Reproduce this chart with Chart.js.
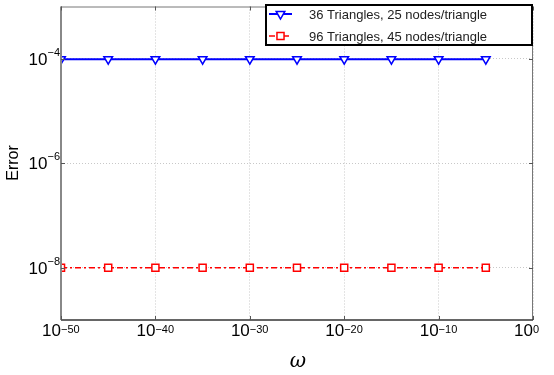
<!DOCTYPE html>
<html>
<head>
<meta charset="utf-8">
<script src="https://cdn.jsdelivr.net/npm/chart.js@4.4.0/dist/chart.umd.min.js"></script>
<style>
  html, body { margin: 0; padding: 0; background: #fff; }
  #wrap { width: 554px; height: 375px; }
</style>
</head>
<body>
<div id="wrap"><canvas id="chart"></canvas></div>
<script>
// values
const omega = [1e-50, 1e-45, 1e-40, 1e-35, 1e-30, 1e-25, 1e-20, 1e-15, 1e-10, 1e-5];
const err36 = [9.8e-5, 9.8e-5, 9.8e-5, 9.8e-5, 9.8e-5, 9.8e-5, 9.8e-5, 9.8e-5, 9.8e-5, 9.8e-5];
const err96 = [1.0e-8, 1.0e-8, 1.0e-8, 1.0e-8, 1.0e-8, 1.0e-8, 1.0e-8, 1.0e-8, 1.0e-8, 1.0e-8];
const xExp = [-50, -40, -30, -20, -10, 0];
const yExp = [-8, -6, -4];
const seriesNames = ['36 Triangles, 25 nodes/triangle', '96 Triangles, 45 nodes/triangle'];

const FONT = '"Liberation Sans", Arial, Helvetica, sans-serif';

// draws frame, inner ticks, 10^n labels, axis titles and the boxed legend
const matlabLook = {
  id: 'matlabLook',
  afterDraw(chart) {
    const ctx = chart.ctx;
    const a = chart.chartArea;
    const xs = chart.scales.x, ys = chart.scales.y;
    ctx.save();

    // frame
    ctx.lineCap = 'butt';
    ctx.strokeStyle = '#777'; ctx.lineWidth = 1;
    ctx.beginPath(); ctx.moveTo(a.left, a.top + 0.5); ctx.lineTo(a.right, a.top + 0.5); ctx.stroke();
    ctx.beginPath(); ctx.moveTo(a.right - 0.5, a.top); ctx.lineTo(a.right - 0.5, a.bottom); ctx.stroke();
    ctx.strokeStyle = '#888'; ctx.lineWidth = 2;
    ctx.beginPath(); ctx.moveTo(a.left, a.top); ctx.lineTo(a.left, a.bottom); ctx.stroke();
    ctx.strokeStyle = '#333'; ctx.lineWidth = 1.5;
    ctx.beginPath(); ctx.moveTo(a.left, a.bottom); ctx.lineTo(a.right, a.bottom); ctx.stroke();

    // inner ticks
    ctx.strokeStyle = '#555'; ctx.lineWidth = 1;
    xExp.forEach(e => {
      const px = Math.round(xs.getPixelForValue(Math.pow(10, e))) + 0.5;
      ctx.beginPath(); ctx.moveTo(px, a.bottom); ctx.lineTo(px, a.bottom - 4); ctx.stroke();
      ctx.beginPath(); ctx.moveTo(px, a.top); ctx.lineTo(px, a.top + 4); ctx.stroke();
    });
    yExp.forEach(e => {
      const py = Math.round(ys.getPixelForValue(Math.pow(10, e))) + 0.5;
      ctx.beginPath(); ctx.moveTo(a.left, py); ctx.lineTo(a.left + 4, py); ctx.stroke();
      ctx.beginPath(); ctx.moveTo(a.right, py); ctx.lineTo(a.right - 4, py); ctx.stroke();
    });

    // tick labels
    ctx.fillStyle = '#000';
    ctx.textBaseline = 'alphabetic';
    xExp.forEach(e => {
      const px = xs.getPixelForValue(Math.pow(10, e));
      ctx.font = '17px ' + FONT;
      ctx.textAlign = 'right';
      ctx.fillText('10', px, a.bottom + 16);
      ctx.font = '11px ' + FONT;
      ctx.textAlign = 'left';
      ctx.fillText(e === 0 ? '0' : '\u2212' + Math.abs(e), px, a.bottom + 13);
    });
    yExp.forEach(e => {
      const py = ys.getPixelForValue(Math.pow(10, e));
      ctx.font = '11px ' + FONT;
      ctx.textAlign = 'right';
      const sup = '\u2212' + Math.abs(e);
      ctx.fillText(sup, a.left - 1, py - 3);
      const w = ctx.measureText(sup).width;
      ctx.font = '17px ' + FONT;
      ctx.fillText('10', a.left - 1 - w, py + 6);
    });

    // axis titles
    ctx.font = '16px ' + FONT;
    ctx.textAlign = 'center';
    ctx.save();
    ctx.translate(18, 163);
    ctx.rotate(-Math.PI / 2);
    ctx.fillText('Error', 0, 0);
    ctx.restore();
    ctx.font = 'italic 20px "DejaVu Serif", serif';
    ctx.fillText('\u03c9', 298, 367);

    // legend
    const lx = 265, ly = 4, lw = 268, lh = 42;
    ctx.fillStyle = '#fff';
    ctx.fillRect(lx, ly, lw, lh);
    ctx.strokeStyle = '#000'; ctx.lineWidth = 2;
    ctx.strokeRect(lx + 1, ly + 1, lw - 2, lh - 2);
    const rows = [14, 36];
    chart.data.datasets.forEach((ds, i) => {
      const y = rows[i];
      ctx.strokeStyle = ds.borderColor;
      ctx.lineWidth = ds.borderWidth;
      ctx.setLineDash(ds.borderDash || []);
      ctx.beginPath(); ctx.moveTo(269, y); ctx.lineTo(292, y); ctx.stroke();
      ctx.setLineDash([]);
      ctx.lineWidth = ds.pointBorderWidth;
      ctx.fillStyle = '#fff';
      Chart.helpers.drawPoint(ctx, {
        pointStyle: ds.pointStyle, rotation: ds.pointRotation || 0,
        radius: ds.pointRadius, borderWidth: ds.pointBorderWidth
      }, 280.5, y);
      ctx.fillStyle = '#222';
      ctx.font = '13px ' + FONT;
      ctx.textAlign = 'left';
      ctx.textBaseline = 'middle';
      ctx.fillText(ds.label, 309, y + 1);
    });
    ctx.restore();
  }
};

new Chart(document.getElementById('chart'), {
  type: 'line',
  data: {
    datasets: [
      {
        label: seriesNames[0],
        data: omega.map((w, i) => ({ x: w, y: err36[i] })),
        borderColor: '#0000ff',
        borderWidth: 2,
        pointStyle: 'triangle',
        pointRotation: 180,
        pointRadius: 5,
        pointBorderWidth: 1.5,
        pointBackgroundColor: '#fff',
        pointBorderColor: '#0000ff'
      },
      {
        label: seriesNames[1],
        data: omega.map((w, i) => ({ x: w, y: err96[i] })),
        borderColor: '#ff0000',
        borderWidth: 1.5,
        borderDash: [6, 3, 2, 3],
        pointStyle: 'rect',
        pointRadius: 5,
        pointBorderWidth: 1.5,
        pointBackgroundColor: '#fff',
        pointBorderColor: '#ff0000'
      }
    ]
  },
  options: {
    responsive: true,
    maintainAspectRatio: false,
    animation: false,
    layout: { padding: { left: 61, right: 21, top: 4, bottom: 55 } },
    plugins: { legend: { display: false }, tooltip: { enabled: false } },
    scales: {
      x: {
        type: 'logarithmic',
        min: 1e-50,
        max: 1,
        afterBuildTicks: s => { s.ticks = xExp.map(e => ({ value: Math.pow(10, e) })); },
        ticks: { display: false },
        grid: { color: '#c8c8c8', lineWidth: 1, drawTicks: false },
        border: { display: false, dash: [1, 2] }
      },
      y: {
        type: 'logarithmic',
        min: 1e-9,
        max: 1e-3,
        afterBuildTicks: s => { s.ticks = yExp.map(e => ({ value: Math.pow(10, e) })); },
        ticks: { display: false },
        grid: { color: '#c8c8c8', lineWidth: 1, drawTicks: false },
        border: { display: false, dash: [1, 2] }
      }
    }
  },
  plugins: [matlabLook]
});
</script>
</body>
</html>
